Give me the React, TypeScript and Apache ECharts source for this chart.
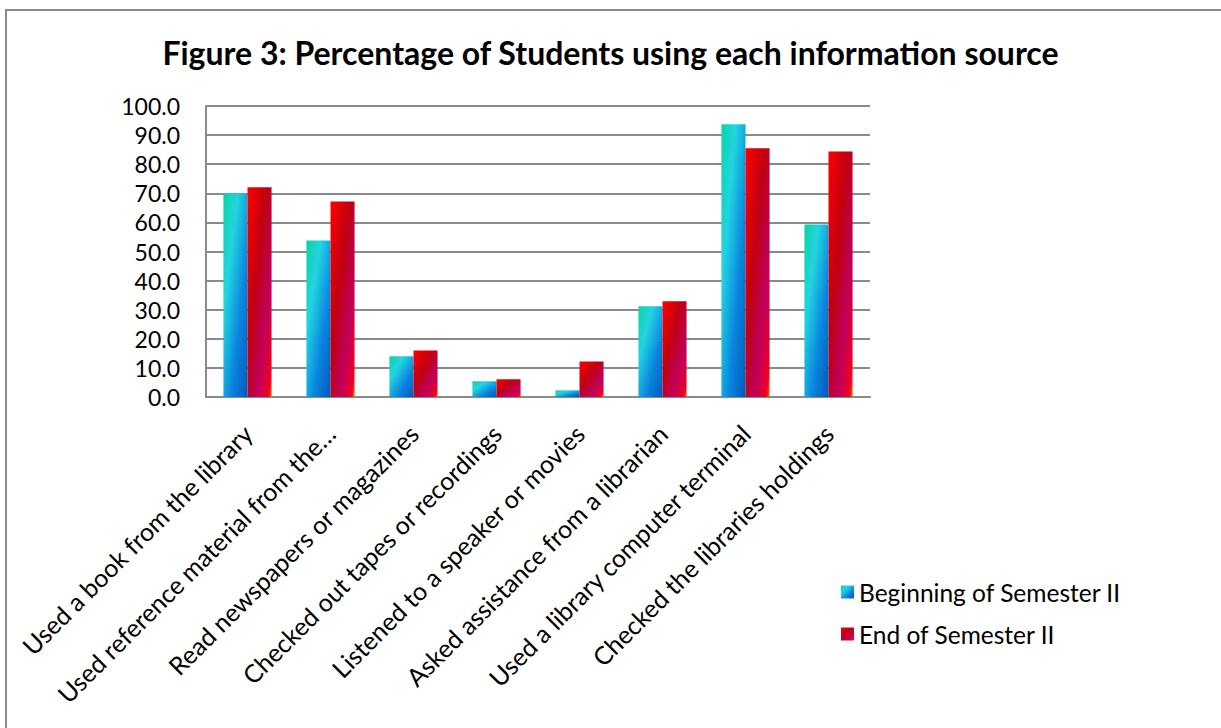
import React, { useEffect, useRef } from "react";
import * as echarts from "echarts";

const categories = [
  "Used a book from the library",
  "Used reference material from the…",
  "Read newspapers or magazines",
  "Checked out tapes or recordings",
  "Listened to a speaker or movies",
  "Asked assistance from a librarian",
  "Used a library computer terminal",
  "Checked the libraries holdings",
];
const beginningValues = [70.0, 53.8, 14.0, 5.4, 2.3, 31.2, 93.7, 59.3];
const endValues = [72.1, 67.2, 16.0, 6.1, 12.2, 32.9, 85.5, 84.4];
const seriesNames = ["Beginning of Semester II", "End of Semester II"];
const titleText = "Figure 3: Percentage of Students using each information source";

const FONT = "Lato, 'Open Sans', sans-serif";

const blueGrad = () =>
  new echarts.graphic.LinearGradient(0, 0, 1, 1, [
    { offset: 0, color: "#0bd3a6" },
    { offset: 0.3, color: "#22d4e0" },
    { offset: 0.65, color: "#0a86e0" },
    { offset: 1, color: "#0058b8" },
  ]);
const redGrad = () =>
  new echarts.graphic.LinearGradient(0, 0, 1, 1, [
    { offset: 0, color: "#ff0000" },
    { offset: 0.4, color: "#c00010" },
    { offset: 0.7, color: "#c0005c" },
    { offset: 0.93, color: "#f20020" },
    { offset: 1, color: "#ff6a00" },
  ]);

export default function App() {
  const ref = useRef<HTMLDivElement>(null);
  useEffect(() => {
    document.body.style.margin = "0";
    const chart = echarts.init(ref.current!, null, { renderer: "svg" });
    chart.setOption({
      animation: false,
      backgroundColor: "#ffffff",
      textStyle: { fontFamily: FONT },
      title: {
        text: titleText,
        left: "center",
        top: 31,
        textStyle: { fontFamily: FONT, fontWeight: "bold", fontSize: 32, color: "#000" },
      },
      graphic: [
        {
          type: "rect",
          shape: { x: 6, y: 10, width: 1400, height: 900 },
          style: { fill: "none", stroke: "#8a8a8a", lineWidth: 2 },
          silent: true,
        },
      ],
      legend: {
        orient: "vertical",
        left: 836,
        top: 573,
        itemWidth: 13,
        itemHeight: 13,
        itemGap: 14,
        icon: "rect",
        textStyle: { fontFamily: FONT, fontSize: 24.5, color: "#000", lineHeight: 28 },
        data: [
          { name: seriesNames[0], itemStyle: { color: blueGrad() } },
          { name: seriesNames[1], itemStyle: { color: redGrad() } },
        ],
      },
      grid: { left: 206, right: 351, top: 106, bottom: 331, containLabel: false },
      xAxis: {
        type: "category",
        data: categories,
        axisLine: { lineStyle: { color: "#8a8a8a", width: 2 } },
        axisTick: { show: false },
        axisLabel: {
          rotate: 45,
          interval: 0,
          margin: 32,
          fontFamily: FONT,
          fontSize: 25,
          color: "#000",
        },
      },
      yAxis: {
        type: "value",
        min: 0,
        max: 100,
        interval: 10,
        axisLine: { show: true, lineStyle: { color: "#8a8a8a", width: 2 } },
        axisTick: { show: false },
        splitLine: { lineStyle: { color: "#8a8a8a", width: 2 } },
        axisLabel: {
          margin: 26,
          fontFamily: FONT,
          fontSize: 23,
          color: "#000",
          formatter: (v: number) => v.toFixed(1),
        },
      },
      series: [
        {
          name: seriesNames[0],
          type: "bar",
          data: beginningValues,
          barGap: "0%",
          barCategoryGap: "42%",
          itemStyle: { color: blueGrad() },
        },
        {
          name: seriesNames[1],
          type: "bar",
          data: endValues,
          barGap: "0%",
          barCategoryGap: "42%",
          itemStyle: { color: redGrad() },
        },
      ],
    });
    return () => chart.dispose();
  }, []);
  return <div ref={ref} style={{ width: 1221, height: 728 }} />;
}
